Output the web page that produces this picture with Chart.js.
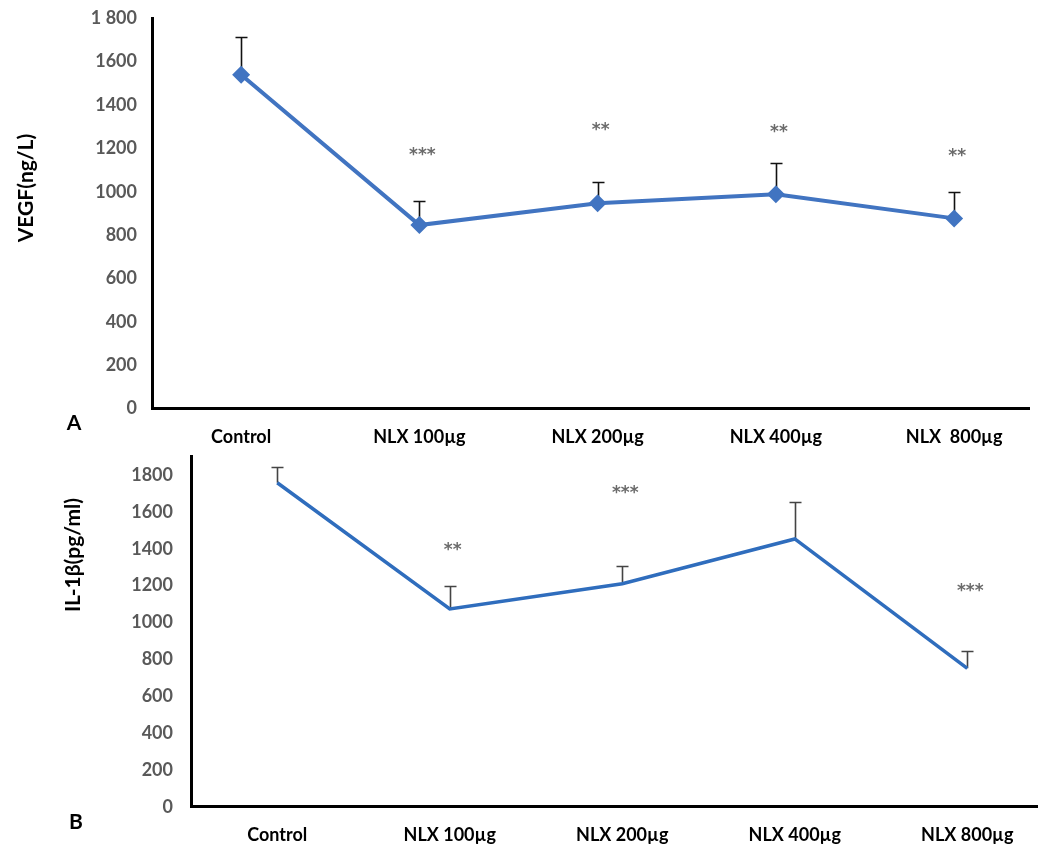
<!DOCTYPE html>
<html>
<head>
<meta charset="utf-8">
<script src="https://cdn.jsdelivr.net/npm/chart.js@4"></script>
<style>
  html, body { margin: 0; padding: 0; background: #fff; overflow: hidden; }
  #wrap { position: relative; width: 1038px; height: 848px; }
  canvas { position: absolute; left: 0; }
</style>
</head>
<body>
<div id="wrap">
  <canvas id="vegf" width="1038" height="448" style="top:0"></canvas>
  <canvas id="il1b" width="1038" height="404" style="top:444px"></canvas>
</div>
<script>
// Treatment groups (panel A label has a double space before 800)
const groupsA = ['Control', 'NLX 100µg', 'NLX 200µg', 'NLX 400µg', 'NLX  800µg'];
const groupsB = ['Control', 'NLX 100µg', 'NLX 200µg', 'NLX 400µg', 'NLX 800µg'];

// Panel A: VEGF (ng/L), mean and upper SD
const vegfMean = [1540, 846, 947, 988, 877];
const vegfErr  = [175, 111, 99, 143, 120];
const vegfSig   = ['', '***', '**', '**', '**'];
const vegfSigAt = [0, 1185, 1300, 1289, 1179];

// Panel B: IL-1β (pg/ml), mean and upper SD
const il1bMean = [1758, 1073, 1210, 1453, 751];
const il1bErr  = [87, 125, 95, 200, 95];
const il1bSig   = ['', '**', '***', '', '***'];
const il1bSigAt = [0, 1411, 1719, 0, 1187];

// Y-axis ticks
const yTickValues = [0, 200, 400, 600, 800, 1000, 1200, 1400, 1600, 1800];
const yTickLabelsA = ['0', '200', '400', '600', '800', '1000', '1200', '1400', '1600', '1 800'];
const yTickLabelsB = ['0', '200', '400', '600', '800', '1000', '1200', '1400', '1600', '1800'];

const FONT = 'Lato, "Open Sans", sans-serif';

// Error bars (upper whisker only), significance stars, axis title and panel letter
const decor = {
  id: 'decor',
  beforeDatasetsDraw(chart, args, o) {
    const { ctx, scales: { x, y } } = chart;
    ctx.save();
    ctx.strokeStyle = o.errColor;
    ctx.lineWidth = 1.6;
    o.mean.forEach((m, i) => {
      const px = Math.round(x.getPixelForValue(i)) + 0.5;
      const y0 = y.getPixelForValue(m);
      const y1 = Math.round(y.getPixelForValue(m + o.err[i])) + 0.5;
      ctx.beginPath();
      ctx.moveTo(px, y0);
      ctx.lineTo(px, y1);
      ctx.moveTo(px - 6, y1);
      ctx.lineTo(px + 6, y1);
      ctx.stroke();
    });
    ctx.restore();
  },
  afterDraw(chart, args, o) {
    const { ctx, scales: { x, y } } = chart;
    ctx.save();
    // significance marks
    ctx.fillStyle = '#6b6b6b';
    ctx.font = 'bold 17px "DejaVu Sans", sans-serif';
    ctx.textAlign = 'center';
    ctx.textBaseline = 'middle';
    o.sig.forEach((s, i) => {
      if (!s) return;
      ctx.fillText(s, x.getPixelForValue(i) + 3, y.getPixelForValue(o.sigAt[i]) + 4);
    });
    // rotated y-axis title
    ctx.fillStyle = '#000';
    ctx.font = 'bold 21px ' + FONT;
    ctx.translate(o.titleX, o.titleY);
    ctx.rotate(-Math.PI / 2);
    ctx.fillText(o.title, 0, 0);
    ctx.setTransform(1, 0, 0, 1, 0, 0);
    // panel letter
    ctx.font = 'bold 21px ' + FONT;
    ctx.fillText(o.letter, o.letterX, o.letterY);
    ctx.restore();
  }
};

function makeChart(id, cfg) {
  const labels = cfg.groups;
  return new Chart(document.getElementById(id), {
    type: 'line',
    data: {
      datasets: [{
        data: cfg.mean.map((v, i) => ({ x: i, y: v })),
        borderColor: cfg.color,
        backgroundColor: cfg.color,
        borderWidth: cfg.lineWidth,
        pointStyle: 'rectRot',
        pointRadius: cfg.pointRadius,
        pointBorderWidth: 0,
        pointBackgroundColor: cfg.color,
        tension: 0,
        fill: false
      }]
    },
    options: {
      responsive: false,
      maintainAspectRatio: false,
      animation: false,
      devicePixelRatio: 1,
      layout: { padding: { top: cfg.padTop, right: 0, bottom: 0, left: 0 } },
      plugins: {
        legend: { display: false },
        tooltip: { enabled: false },
        decor: {
          mean: cfg.mean, err: cfg.err, errColor: cfg.errColor,
          sig: cfg.sig, sigAt: cfg.sigAt,
          title: cfg.title, titleX: cfg.titleX, titleY: cfg.titleY,
          letter: cfg.letter, letterX: cfg.letterX, letterY: cfg.letterY
        }
      },
      scales: {
        x: {
          type: 'linear',
          min: -0.5,
          max: cfg.xMax,
          afterBuildTicks: s => { s.ticks = labels.map((_, i) => ({ value: i })); },
          afterFit: s => {
            s.height = cfg.xHeight;
            s.paddingLeft = 0; s.paddingRight = 0;
          },
          grid: { display: false, drawTicks: false },
          border: { display: true, color: '#000', width: 3 },
          ticks: {
            autoSkip: false, maxRotation: 0, padding: 18,
            color: '#000',
            font: { family: FONT, size: 18, weight: 'bold' },
            callback: v => labels[v]
          }
        },
        y: {
          min: 0,
          max: cfg.yMax,
          afterBuildTicks: s => { s.ticks = yTickValues.map(v => ({ value: v })); },
          afterFit: s => {
            s.width = cfg.yWidth;
            s.paddingTop = 0; s.paddingBottom = 0;
          },
          grid: { display: false, drawTicks: false },
          border: { display: true, color: '#000', width: 3 },
          ticks: {
            padding: cfg.yPad,
            color: '#595959',
            font: { family: FONT, size: 18, weight: 'bold' },
            callback: (v, i) => cfg.yLabels[i]
          }
        }
      }
    },
    plugins: [decor]
  });
}

makeChart('vegf', {
  groups: groupsA, mean: vegfMean, err: vegfErr, sig: vegfSig, sigAt: vegfSigAt,
  color: '#4174c1', lineWidth: 4, pointRadius: 9, errColor: '#111',
  padTop: 18.3, xHeight: 39.5, xMax: 4.42, yMax: 1800, yWidth: 152, yPad: 15,
  yLabels: yTickLabelsA,
  title: 'VEGF(ng/L)', titleX: 26, titleY: 188,
  letter: 'A', letterX: 74, letterY: 423
});

makeChart('il1b', {
  groups: groupsB, mean: il1bMean, err: il1bErr, sig: il1bSig, sigAt: il1bSigAt,
  color: '#2f6dbd', lineWidth: 3.5, pointRadius: 0, errColor: '#444',
  padTop: 12.6, xHeight: 41.3, xMax: 4.41, yMax: 1900, yWidth: 191, yPad: 18,
  yLabels: yTickLabelsB,
  title: 'IL-1β(pg/ml)', titleX: 73, titleY: 111,
  letter: 'B', letterX: 76, letterY: 378
});
</script>
</body>
</html>
